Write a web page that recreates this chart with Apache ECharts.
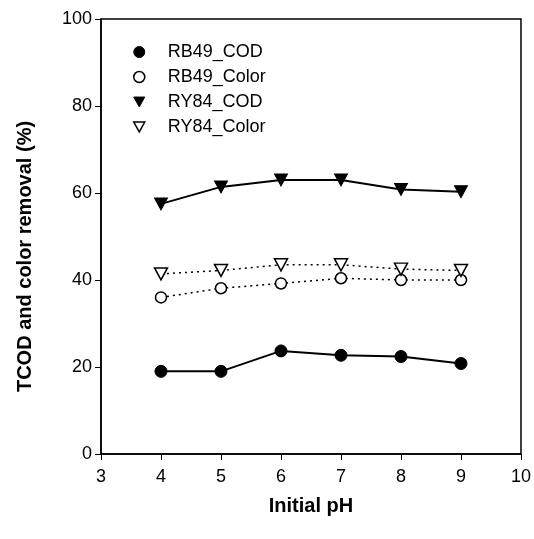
<!DOCTYPE html>
<html>
<head>
<meta charset="utf-8">
<script src="https://cdn.jsdelivr.net/npm/echarts@6/dist/echarts.min.js"></script>
<style>
html,body{margin:0;padding:0;background:#fff;}
#chart{width:534px;height:539px;}
</style>
</head>
<body>
<div id="chart"></div>
<script>
var phValues = [4, 5, 6, 7, 8, 9];
var rb49Cod = [19.0, 19.0, 23.7, 22.7, 22.4, 20.8];
var rb49Color = [36.0, 38.1, 39.2, 40.4, 40.0, 40.0];
var ry84Cod = [57.5, 61.4, 63.0, 63.0, 60.8, 60.3];
var ry84Color = [41.4, 42.2, 43.5, 43.5, 42.5, 42.2];
var seriesNames = ['RB49_COD', 'RB49_Color', 'RY84_COD', 'RY84_Color'];

function pairs(xs, ys) { return xs.map(function (x, i) { return [x, ys[i]]; }); }

var triDown = 'path://M0,0L20,0L10,18Z';
var font = 'Arial, "Liberation Sans", sans-serif';

var chart = echarts.init(document.getElementById('chart'), null, {renderer: 'canvas'});
chart.setOption({
  animation: false,
  backgroundColor: '#fff',
  grid: {left: 101, right: 11, top: 19, bottom: 85, show: true, borderColor: '#000', borderWidth: 1.5, backgroundColor: 'transparent'},
  legend: {
    orient: 'vertical', left: 128, top: 38, itemWidth: 11, itemHeight: 11, itemGap: 7,
    textStyle: {fontFamily: font, fontSize: 18, color: '#000', lineHeight: 18, padding: [0, 0, 0, 18]},
    data: [
      {name: seriesNames[0], icon: 'circle', itemStyle: {color: '#000', borderColor: '#000', borderWidth: 1}},
      {name: seriesNames[1], icon: 'circle', itemStyle: {color: '#fff', borderColor: '#000', borderWidth: 1.5}},
      {name: seriesNames[2], icon: triDown, itemStyle: {color: '#000', borderColor: '#000', borderWidth: 1}},
      {name: seriesNames[3], icon: triDown, itemStyle: {color: '#fff', borderColor: '#000', borderWidth: 1.5}}
    ]
  },
  xAxis: {
    type: 'value', min: 3, max: 10, interval: 1,
    name: 'Initial pH', nameLocation: 'middle', nameGap: 42,
    nameTextStyle: {fontFamily: font, fontSize: 20, fontWeight: 'bold', color: '#000'},
    axisLine: {show: true, lineStyle: {color: '#000', width: 1.5}},
    axisTick: {show: true, inside: false, length: 6, lineStyle: {color: '#000', width: 1}},
    axisLabel: {fontFamily: font, fontSize: 18, color: '#000', margin: 14},
    splitLine: {show: false}
  },
  yAxis: {
    type: 'value', min: 0, max: 100, interval: 20,
    name: 'TCOD and color removal (%)', nameLocation: 'middle', nameGap: 66, nameRotate: 90,
    nameTextStyle: {fontFamily: font, fontSize: 20, fontWeight: 'bold', color: '#000', padding: [0, 40, 0, 0]},
    axisLine: {show: true, lineStyle: {color: '#000', width: 1.5}},
    axisTick: {show: true, inside: false, length: 6, lineStyle: {color: '#000', width: 1}},
    axisLabel: {fontFamily: font, fontSize: 18, color: '#000', margin: 9},
    splitLine: {show: false}
  },
  series: [
    {name: seriesNames[0], type: 'line', data: pairs(phValues, rb49Cod), symbol: 'circle', symbolSize: 12,
      itemStyle: {color: '#000', borderColor: '#000'}, lineStyle: {color: '#000', width: 2}, z: 5},
    {name: seriesNames[1], type: 'line', data: pairs(phValues, rb49Color), symbol: 'circle', symbolSize: 11,
      itemStyle: {color: '#fff', borderColor: '#000', borderWidth: 1.5}, lineStyle: {color: '#000', width: 1.5, type: [2, 4]}, z: 4},
    {name: seriesNames[2], type: 'line', data: pairs(phValues, ry84Cod), symbol: triDown, symbolSize: [13, 12],
      itemStyle: {color: '#000', borderColor: '#000'}, lineStyle: {color: '#000', width: 2}, z: 5},
    {name: seriesNames[3], type: 'line', data: pairs(phValues, ry84Color), symbol: triDown, symbolSize: [13, 12],
      itemStyle: {color: '#fff', borderColor: '#000', borderWidth: 1.5}, lineStyle: {color: '#000', width: 1.5, type: [2, 4]}, z: 4}
  ]
});
</script>
</body>
</html>
